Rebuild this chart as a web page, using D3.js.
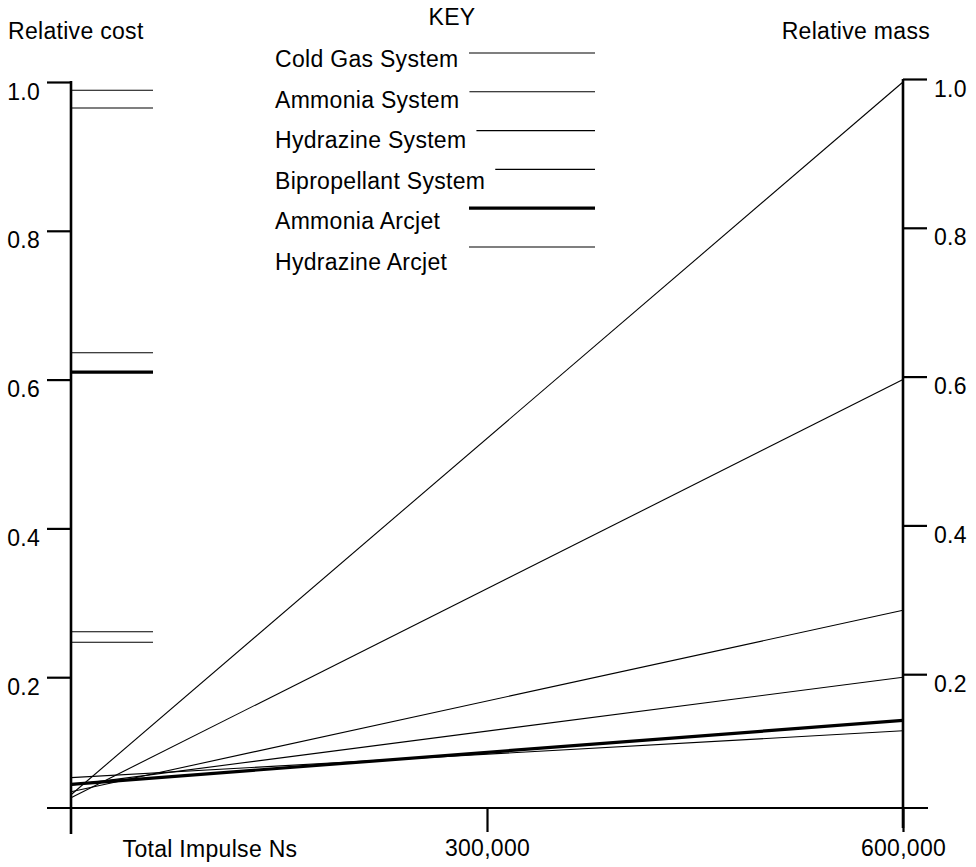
<html>
<head>
    <title>Relative cost and mass vs total impulse</title>
    <meta charset="UTF-8" />
    <script src="https://d3js.org/d3.v7.min.js"></script>

    <style>
        body {
            margin: 0;
            background: white;
        }

        text {
            font-family: "Liberation Sans", Arial, sans-serif;
            font-size: 23px;
            letter-spacing: 0.3px;
            fill: black;
        }

        .axis .domain {
            stroke: none;
        }

        .axis line {
            stroke: black;
            stroke-width: 2.2;
        }
    </style>
</head>

<body>
    <svg height="867" width="976" id="svg"></svg>

    <script>

        // data
        const systems = ["Cold Gas System", "Ammonia System", "Hydrazine System",
                         "Bipropellant System", "Ammonia Arcjet", "Hydrazine Arcjet"];
        const massAtStart = [0.042, 0.038, 0.046, 0.055, 0.056, 0.065];   // at 0 Ns
        const massAtEnd = [1.0, 0.6, 0.29, 0.2, 0.142, 0.128];           // at 600,000 Ns
        const relativeCost = [0.247, 0.261, 0.965, 0.989, 0.61, 0.636];
        const impulseRange = [0, 600000];
        const costTicks = [0.2, 0.4, 0.6, 0.8, 1.0];
        const massTicks = [0.2, 0.4, 0.6, 0.8, 1.0];
        const impulseTicks = [300000, 600000];

        const svg = d3.select('svg#svg');

        // scales
        const xScale = d3.scaleLinear().domain(impulseRange).range([71, 903]);
        const yScale = d3.scaleLinear().domain([0, 1]).range([826, 82]);
        const axisY = 808;   // where the impulse axis sits

        // widths: the arcjet on ammonia is the heavy line
        const widthOf = name => name == "Ammonia Arcjet" ? 3.2 : 1.1;

        // y axes (drawn lines + d3 ticks)
        svg.append("line")
            .attr("x1", xScale(0)).attr("x2", xScale(0))
            .attr("y1", yScale(1.0) - 1).attr("y2", axisY + 26)
            .attr("stroke", "black").attr("stroke-width", 2.6);
        svg.append("line")
            .attr("x1", xScale(600000)).attr("x2", xScale(600000))
            .attr("y1", yScale(1.0) - 3).attr("y2", axisY + 20)
            .attr("stroke", "black").attr("stroke-width", 2.6);

        let leftAxis = d3.axisLeft(yScale).tickValues(costTicks)
                            .tickSize(24).tickPadding(7).tickSizeOuter(0)
                            .tickFormat(d3.format(".1f"));
        svg.append("g")
            .attr("class", "y axis")
            .attr("transform", "translate(" + xScale(0) + ",0)")
            .call(leftAxis)
            .selectAll("text").attr("dy", "0.74em").style("font-size", "23px");

        let rightAxis = d3.axisRight(yScale).tickValues(massTicks)
                            .tickSize(24).tickPadding(7).tickSizeOuter(0)
                            .tickFormat(d3.format(".1f"));
        svg.append("g")
            .attr("class", "y axis")
            .attr("transform", "translate(" + xScale(600000) + ",-3)")
            .call(rightAxis)
            .selectAll("text").attr("dy", "0.74em").style("font-size", "23px");

        // impulse axis
        svg.append("line")
            .attr("x1", 47).attr("x2", 928)
            .attr("y1", axisY).attr("y2", axisY)
            .attr("stroke", "black").attr("stroke-width", 2.2);

        let bottomAxis = d3.axisBottom(xScale).tickValues(impulseTicks)
                            .tickSize(24).tickPadding(8).tickSizeOuter(0)
                            .tickFormat(d3.format(","));
        svg.append("g")
            .attr("class", "x axis")
            .attr("transform", "translate(0," + axisY + ")")
            .call(bottomAxis)
            .selectAll("text").style("font-size", "23px");

        // mass lines
        const massLine = d3.line()
            .x(d => xScale(d[0]))
            .y(d => yScale(d[1]));

        svg.append("g").attr("id", "mass")
            .selectAll("path").data(systems)
            .join("path")
            .attr("d", (d, i) => massLine([[impulseRange[0], massAtStart[i]], [impulseRange[1], massAtEnd[i]]]))
            .attr("fill", "none")
            .attr("stroke", "black")
            .attr("stroke-width", d => widthOf(d));

        // cost marks on the left axis
        svg.append("g").attr("id", "cost")
            .selectAll("line").data(systems)
            .join("line")
            .attr("x1", xScale(0))
            .attr("x2", xScale(0) + 82)
            .attr("y1", (d, i) => yScale(relativeCost[i]))
            .attr("y2", (d, i) => yScale(relativeCost[i]))
            .attr("stroke", "black")
            .attr("stroke-width", d => widthOf(d));

        // titles
        svg.append("text").attr("x", 8).attr("y", 39).text("Relative cost");
        svg.append("text").attr("x", 930).attr("y", 39)
            .attr("text-anchor", "end").text("Relative mass");
        svg.append("text").attr("x", 210).attr("y", 857)
            .attr("text-anchor", "middle").text("Total Impulse Ns");

        // key
        svg.append("text").attr("x", 452).attr("y", 25)
            .attr("text-anchor", "middle").text("KEY");

        let key = svg.append("g").attr("id", "key")
                    .selectAll("g").data(systems)
                    .join("g");

        key.append("text")
            .attr("x", 275)
            .attr("y", (d, i) => 67 + i * 40.6)
            .text(d => d);

        key.append("line")
            .attr("x1", function (d) {
                let textEnd = 275 + d3.select(this.parentNode).select("text").node().getComputedTextLength();
                return Math.max(469, textEnd + 10);
            })
            .attr("x2", 595)
            .attr("y1", (d, i) => 53 + i * 38.8)
            .attr("y2", (d, i) => 53 + i * 38.8)
            .attr("stroke", "black")
            .attr("stroke-width", d => widthOf(d));

    </script>

</body>
</html>
